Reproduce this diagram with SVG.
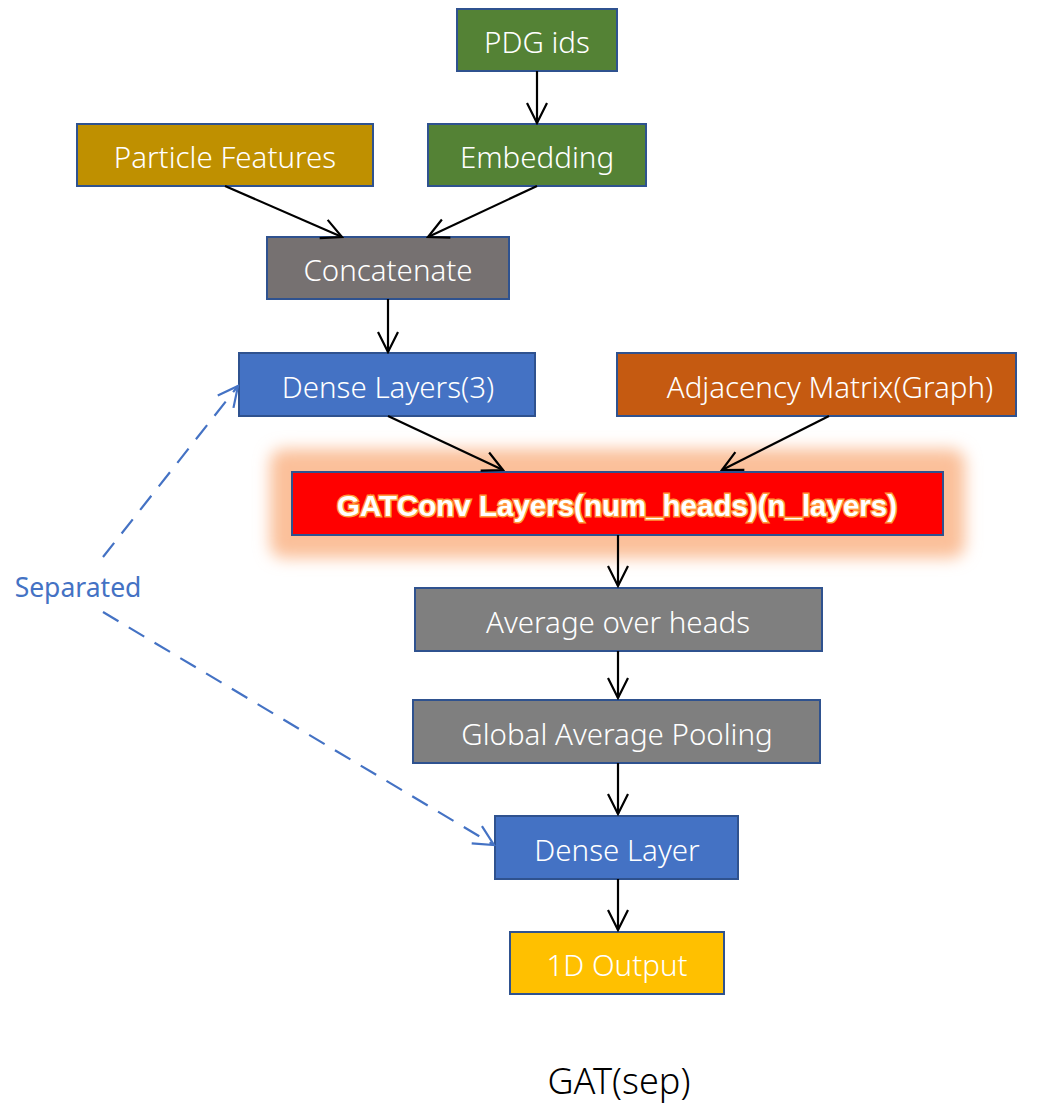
<svg xmlns="http://www.w3.org/2000/svg" width="1043" height="1103" viewBox="0 0 1043 1103">
<style>
.box{stroke:#2F528F;stroke-width:2}
.lbl{font-family:"Noto Sans","Open Sans","DejaVu Sans",sans-serif;font-weight:300;font-size:29.5px;fill:#ffffff;text-anchor:middle;dominant-baseline:central}
.conn{stroke:#000;stroke-width:2.2;fill:none;marker-end:url(#ah)}
.dash{stroke:#4472C4;stroke-width:2.2;fill:none;stroke-dasharray:18 12}
</style>
<defs>
<marker id="ah" viewBox="0 0 24 24" refX="22" refY="12" markerWidth="24" markerHeight="24" markerUnits="userSpaceOnUse" orient="auto">
<path d="M2,2 L22,12 L2,22" fill="none" stroke="#000" stroke-width="2.2"/>
</marker>
<marker id="bh" viewBox="0 0 24 24" refX="22" refY="12" markerWidth="24" markerHeight="24" markerUnits="userSpaceOnUse" orient="auto">
<path d="M2,2 L22,12 L2,22" fill="none" stroke="#4472C4" stroke-width="2.2"/>
</marker>
<filter id="glow" x="-20%" y="-100%" width="140%" height="300%">
<feGaussianBlur stdDeviation="8"/>
</filter>
</defs>

<g id="n-pdg"><rect class="box" x="457" y="9" width="160" height="62" fill="#548235"/><text class="lbl" x="537" y="41">PDG ids</text></g>
<g id="n-emb"><rect class="box" x="428" y="124" width="218" height="62" fill="#548235"/><text class="lbl" x="537" y="156">Embedding</text></g>
<g id="n-pf"><rect class="box" x="77" y="124" width="296" height="62" fill="#BF9000"/><text class="lbl" x="225" y="156">Particle Features</text></g>
<g id="n-concat"><rect class="box" x="267" y="237" width="242" height="62" fill="#767171"/><text class="lbl" x="388" y="269">Concatenate</text></g>
<g id="n-dense3"><rect class="box" x="239" y="353" width="296" height="63" fill="#4472C4"/><text class="lbl" x="388" y="386">Dense Layers(3)</text></g>
<g id="n-adj"><rect class="box" x="617" y="353" width="399" height="63" fill="#C55A11"/><text class="lbl" x="830" y="386">Adjacency Matrix(Graph)</text></g>
<g id="n-gat">
<rect x="270" y="449" width="695" height="109" rx="14" fill="#FBC09A" filter="url(#glow)"/>
<rect class="box" x="292" y="472" width="651" height="63" fill="#FF0000"/>
<text x="617" y="505" style="font-family:'Liberation Sans Narrow','Liberation Sans',sans-serif;font-weight:bold;font-size:29.5px;fill:#fff;text-anchor:middle;dominant-baseline:central;stroke:#FF9A3C;stroke-width:3;paint-order:stroke">GATConv Layers(num_heads)(n_layers)</text>
</g>
<g id="n-avg"><rect class="box" x="415" y="588" width="407" height="63" fill="#7F7F7F"/><text class="lbl" x="618" y="621">Average over heads</text></g>
<g id="n-gap"><rect class="box" x="413" y="700" width="407" height="63" fill="#7F7F7F"/><text class="lbl" x="617" y="733">Global Average Pooling</text></g>
<g id="n-dense"><rect class="box" x="495" y="816" width="243" height="63" fill="#4472C4"/><text class="lbl" x="617" y="849">Dense Layer</text></g>
<g id="n-out"><rect class="box" x="510" y="932" width="214" height="62" fill="#FFC000"/><text class="lbl" x="617" y="964">1D Output</text></g>

<g id="connectors">
<line class="conn" x1="537" y1="71" x2="537" y2="123"/>
<line class="conn" x1="225" y1="186" x2="342" y2="237"/>
<line class="conn" x1="537" y1="186" x2="428" y2="237"/>
<line class="conn" x1="388" y1="299" x2="388" y2="352"/>
<line class="conn" x1="388" y1="416" x2="503" y2="470"/>
<line class="conn" x1="829" y1="416" x2="722" y2="470"/>
<line class="conn" x1="618" y1="535" x2="618" y2="586"/>
<line class="conn" x1="618" y1="651" x2="618" y2="698"/>
<line class="conn" x1="618" y1="763" x2="618" y2="814"/>
<line class="conn" x1="618" y1="879" x2="618" y2="930"/>
<line class="dash" x1="103" y1="557" x2="238" y2="386" marker-end="url(#bh)"/>
<line class="dash" x1="103" y1="612" x2="494" y2="845" marker-end="url(#bh)"/>
</g>

<text x="78" y="587" style="font-family:'Noto Sans','Open Sans',sans-serif;font-size:26.5px;fill:#4472C4;text-anchor:middle;dominant-baseline:central">Separated</text>
<text x="619" y="1080" style="font-family:'Noto Sans','Open Sans',sans-serif;font-weight:300;font-size:36px;fill:#000;text-anchor:middle;dominant-baseline:central">GAT(sep)</text>
</svg>
